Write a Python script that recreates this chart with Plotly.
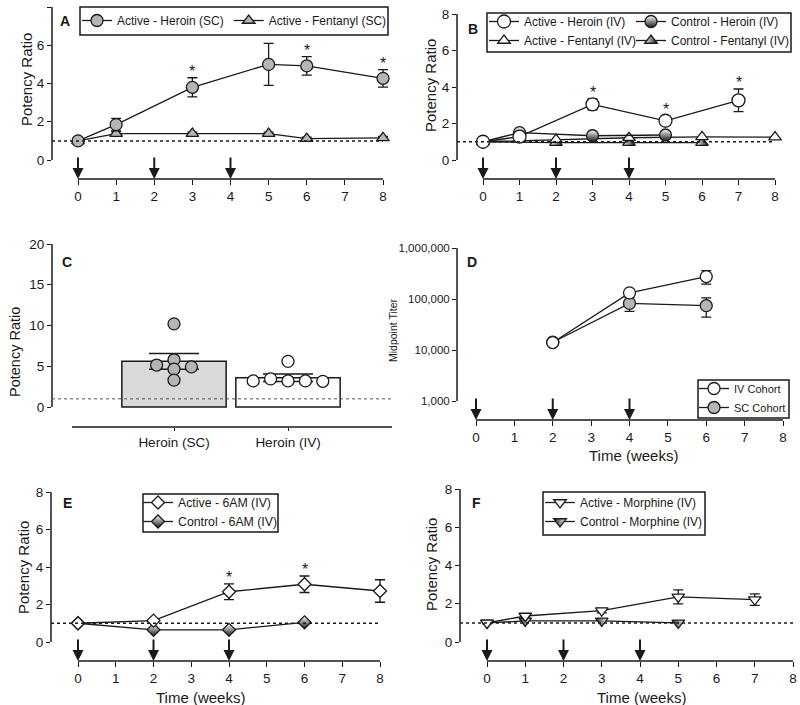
import plotly.graph_objects as go

# ---------------- data ----------------
boost_weeks = [0, 2, 4]
week_ticks = [0, 1, 2, 3, 4, 5, 6, 7, 8]

# Panel A (SC cohort)
a_weeks = [0, 1, 3, 5, 6, 8]
a_heroin = [1.0, 1.85, 3.8, 5.0, 4.92, 4.27]
a_heroin_sem = [0.15, 0.33, 0.5, 1.1, 0.48, 0.46]
a_fent = [1.0, 1.38, 1.38, 1.38, 1.12, 1.16]
a_fent_sem = [0.05, 0.1, 0.08, 0.08, 0.08, 0.08]
a_sig = [3, 6, 8]

# Panel B (IV cohort)
b_heroin_weeks = [0, 1, 3, 5, 7]
b_active_heroin = [1.0, 1.28, 3.05, 2.15, 3.27]
b_active_heroin_sem = [0.08, 0.1, 0.3, 0.25, 0.62]
b_control_heroin_weeks = [0, 1, 3, 5]
b_control_heroin = [1.0, 1.5, 1.33, 1.37]
b_fent_weeks = [0, 2, 4, 6, 8]
b_active_fent = [1.0, 1.12, 1.22, 1.27, 1.25]
b_control_fent_weeks = [0, 2, 4, 6]
b_control_fent = [1.0, 0.95, 0.95, 0.95]
b_sig = [3, 5, 7]

# Panel C
c_groups = ["Heroin (SC)", "Heroin (IV)"]
c_means = [5.6, 3.6]
c_sem = [0.97, 0.46]
c_sc_points = [10.2, 5.8, 5.15, 4.92, 4.65, 3.3]
c_sc_jitter = [0, 0, -1, 1, 0, 0]
c_iv_points = [5.6, 3.2, 3.45, 3.2, 3.2, 3.15]
c_iv_jitter = [0, -2, -1, 0, 1, 2]

# Panel D (midpoint titers)
d_weeks = [2, 4, 6]
d_iv = [14000, 132000, 275000]
d_iv_err_plus = [1500, 15000, 85000]
d_iv_err_minus = [1500, 15000, 80000]
d_sc = [14200, 82000, 74000]
d_sc_err_plus = [1500, 25000, 31000]
d_sc_err_minus = [1500, 25000, 30000]
d_yticks = [1000, 10000, 100000, 1000000]
d_yticktext = ["1,000", "10,000", "100,000", "1,000,000"]

# Panel E (6AM)
e_weeks = [0, 2, 4, 6, 8]
e_active = [1.0, 1.14, 2.68, 3.08, 2.72]
e_active_sem = [0.05, 0.08, 0.42, 0.44, 0.6]
e_control_weeks = [0, 2, 4, 6]
e_control = [1.0, 0.65, 0.65, 1.05]
e_sig = [4, 6]

# Panel F (morphine)
f_weeks = [0, 1, 3, 5, 7]
f_active = [1.0, 1.36, 1.64, 2.36, 2.22]
f_active_sem = [0.05, 0.1, 0.12, 0.37, 0.3]
f_control_weeks = [0, 1, 3, 5]
f_control = [1.0, 1.1, 1.1, 1.0]

# ---------------- style / layout ----------------
W, H = 800, 705
FONT = "Liberation Sans, Arial, Helvetica, sans-serif"
INK = "#1a1a1a"
GRAY = "#b5b5b5"
LW = 1.3

def fx(p):
    return p / W

def fy(p):
    return 1 - p / H

fig = go.Figure()
layout = {}
shapes = []
annotations = []
ranges = {}


def suffix(n):
    return "" if n == 1 else str(n)


def setup_panel(n, left, x0, ppu_x, right, top, base, bottom, ylo, yhi,
                yticks, yticktext=None, log=False, ytickfont=13.5,
                xticks=None, xticktext=None, xline=None, xticklen=5):
    s = suffix(n)
    xr = [(left - x0) / ppu_x, (right - x0) / ppu_x]
    ppu_y = (base - top) / (yhi - ylo)
    yr = [ylo - (bottom - base) / ppu_y, yhi]
    ranges[n] = (xr, yr)
    layout["xaxis" + s] = dict(
        domain=[fx(left), fx(right)], range=xr, anchor="y" + s, automargin=False,
        showgrid=False, zeroline=False, showline=False,
        ticks="outside", ticklen=xticklen, tickwidth=LW, tickcolor=INK,
        tickvals=xticks if xticks is not None else week_ticks,
        ticktext=xticktext, tickfont=dict(size=13.5, color=INK, family=FONT),
        fixedrange=True)
    layout["yaxis" + s] = dict(
        domain=[fy(bottom), fy(top)], range=yr, anchor="x" + s, automargin=False,
        type="log" if log else "linear",
        showgrid=False, zeroline=False, showline=False,
        ticks="outside", ticklen=4, tickwidth=LW, tickcolor=INK,
        tickvals=yticks, ticktext=yticktext,
        tickfont=dict(size=ytickfont, color=INK, family=FONT), fixedrange=True)
    f0 = (ylo - yr[0]) / (yr[1] - yr[0])
    shapes.append(dict(type="line", xref="x" + s + " domain", yref="y" + s + " domain",
                       x0=0, x1=0, y0=f0, y1=1, line=dict(color=INK, width=1.5)))
    if xline is None:
        shapes.append(dict(type="line", xref="x" + s, yref="y" + s + " domain",
                           x0=week_ticks[0], x1=week_ticks[-1], y0=0, y1=0,
                           line=dict(color=INK, width=1.5)))
    else:
        shapes.append(dict(type="line", xref="x" + s + " domain", yref="y" + s + " domain",
                           x0=xline, x1=1, y0=0, y1=0, line=dict(color=INK, width=1.5)))


def dotted_baseline(n, to_end=True, width=1.5, color=INK):
    s = suffix(n)
    xr, yr = ranges[n]
    shapes.append(dict(type="line", xref="x" + s, yref="y" + s,
                       x0=xr[0], x1=week_ticks[-1] if to_end else xr[1], y0=1, y1=1,
                       line=dict(color=color, width=width, dash="dot")))


def arrows(n, length=23):
    s = suffix(n)
    for w in boost_weeks:
        annotations.append(dict(x=w, y=0, xref="x" + s, yref="y" + s + " domain",
                                ax=0, ay=-length, text="", showarrow=True,
                                arrowhead=2, arrowsize=1.1, arrowwidth=2,
                                arrowcolor=INK, standoff=0))


def stars(n, weeks, xs, ys, sems):
    s = suffix(n)
    for w in weeks:
        i = xs.index(w)
        annotations.append(dict(x=w, y=ys[i] + sems[i], xref="x" + s, yref="y" + s,
                                text="*", showarrow=False, yanchor="bottom",
                                yshift=-4, font=dict(size=16, color=INK, family=FONT)))


def series(n, x, y, sem=None, semminus=None, symbol="circle", fill="white", size=12,
           name=None, legend="legend", gradient=None, rank=1, showlegend=True):
    s = suffix(n)
    marker = dict(symbol=symbol, size=size, color=fill, line=dict(color=INK, width=LW))
    if gradient is not None:
        marker["gradient"] = gradient
    err = None
    if sem is not None:
        err = dict(type="data", array=sem, visible=True, color=INK,
                   thickness=LW, width=5)
        if semminus is not None:
            err["symmetric"] = False
            err["arrayminus"] = semminus
    fig.add_trace(go.Scatter(
        x=x, y=y, mode="lines+markers", name=name, marker=marker,
        line=dict(color=INK, width=LW), error_y=err, xaxis="x" + s, yaxis="y" + s,
        legend=legend, legendrank=rank, showlegend=showlegend, cliponaxis=False))


# ---- Panel A ----
setup_panel(1, left=52, x0=78, ppu_x=(383 - 78) / 8, right=398, top=7, base=160, bottom=179,
            ylo=0, yhi=8, yticks=[0, 2, 4, 6, 8])
dotted_baseline(1)
arrows(1)
series(1, a_weeks, a_fent, a_fent_sem, symbol="triangle-up", fill=GRAY, size=11,
       name="Active - Fentanyl (SC)", legend="legend", rank=2)
series(1, a_weeks, a_heroin, a_heroin_sem, symbol="circle", fill=GRAY, size=12,
       name="Active - Heroin (SC)", legend="legend", rank=1)
stars(1, a_sig, a_weeks, a_heroin, a_heroin_sem)

# ---- Panel B ----
setup_panel(2, left=457, x0=483, ppu_x=(775 - 483) / 8, right=790, top=14, base=160, bottom=179,
            ylo=0, yhi=8, yticks=[0, 2, 4, 6, 8])
dotted_baseline(2)
arrows(2)
series(2, b_control_fent_weeks, b_control_fent, symbol="triangle-up", fill="white", size=11,
       gradient=dict(type="horizontal", color=INK),
       name="Control - Fentanyl (IV)", legend="legend3", rank=2)
series(2, b_fent_weeks, b_active_fent, symbol="triangle-up", fill="white", size=11,
       name="Active - Fentanyl (IV)", legend="legend2", rank=2)
series(2, b_control_heroin_weeks, b_control_heroin, symbol="circle", fill="white", size=12,
       gradient=dict(type="vertical", color=INK),
       name="Control - Heroin (IV)", legend="legend3", rank=1)
series(2, b_heroin_weeks, b_active_heroin, b_active_heroin_sem, symbol="circle", fill="white",
       size=13, name="Active - Heroin (IV)", legend="legend2", rank=1)
stars(2, b_sig, b_heroin_weeks, b_active_heroin, b_active_heroin_sem)

# ---- Panel C ----
setup_panel(3, left=52, x0=174, ppu_x=114, right=392, top=244, base=407, bottom=427,
            ylo=0, yhi=20, yticks=[0, 5, 10, 15, 20], xticks=[0, 1], xticktext=c_groups,
            xline=(72 - 52) / (392 - 52), xticklen=3)
dotted_baseline(3, to_end=False, width=1, color="#555")
fig.add_trace(go.Bar(
    x=[0, 1], y=c_means, width=0.915, xaxis="x3", yaxis="y3", showlegend=False,
    marker=dict(color=["#d9d9d9", "white"], line=dict(color=INK, width=1.5)),
    error_y=dict(type="data", array=c_sem, visible=True, color=INK, thickness=1.5, width=25)))
jit = 17.4 / 114
fig.add_trace(go.Scatter(
    x=[0 + j * jit for j in c_sc_jitter], y=c_sc_points, mode="markers", xaxis="x3", yaxis="y3",
    showlegend=False, cliponaxis=False,
    marker=dict(symbol="circle", size=12, color=GRAY, line=dict(color=INK, width=LW))))
fig.add_trace(go.Scatter(
    x=[1 + j * jit for j in c_iv_jitter], y=c_iv_points, mode="markers", xaxis="x3", yaxis="y3",
    showlegend=False, cliponaxis=False,
    marker=dict(symbol="circle", size=12, color="white", line=dict(color=INK, width=LW))))

# ---- Panel D ----
setup_panel(4, left=457, x0=476, ppu_x=(783 - 476) / 8, right=795, top=248, base=401, bottom=420,
            ylo=3, yhi=6, yticks=d_yticks, yticktext=d_yticktext, log=True, ytickfont=11.5)
arrows(4)
series(4, d_weeks, d_sc, d_sc_err_plus, d_sc_err_minus, symbol="circle", fill=GRAY, size=12,
       name="SC Cohort", legend="legend4", rank=2)
series(4, d_weeks, d_iv, d_iv_err_plus, d_iv_err_minus, symbol="circle", fill="white", size=12,
       name="IV Cohort", legend="legend4", rank=1)

# ---- Panel E ----
setup_panel(5, left=51, x0=78, ppu_x=(380 - 78) / 8, right=395, top=492, base=642, bottom=661,
            ylo=0, yhi=8, yticks=[0, 2, 4, 6, 8])
dotted_baseline(5)
arrows(5)
series(5, e_control_weeks, e_control, symbol="diamond", fill="white", size=10,
       gradient=dict(type="vertical", color=INK),
       name="Control - 6AM (IV)", legend="legend5", rank=2)
series(5, e_weeks, e_active, e_active_sem, symbol="diamond", fill="white", size=10,
       name="Active - 6AM (IV)", legend="legend5", rank=1)
stars(5, e_sig, e_weeks, e_active, e_active_sem)

# ---- Panel F ----
setup_panel(6, left=460, x0=487, ppu_x=(793 - 487) / 8, right=799, top=489, base=642, bottom=661,
            ylo=0, yhi=8, yticks=[0, 2, 4, 6, 8])
dotted_baseline(6)
arrows(6)
series(6, f_control_weeks, f_control, symbol="triangle-down", fill=INK, size=11,
       gradient=dict(type="horizontal", color="white"),
       name="Control - Morphine (IV)", legend="legend6", rank=2)
series(6, f_weeks, f_active, f_active_sem, symbol="triangle-down", fill="white", size=11,
       name="Active - Morphine (IV)", legend="legend6", rank=1)

# ---------------- text ----------------
def label(text, x, y, size=15, angle=0, bold=False):
    annotations.append(dict(text="<b>%s</b>" % text if bold else text, x=fx(x), y=fy(y),
                            xref="paper", yref="paper", xanchor="center", yanchor="middle",
                            showarrow=False, textangle=angle,
                            font=dict(size=size, color=INK, family=FONT)))

for t, x, y in [("A", 65, 21), ("B", 473, 29), ("C", 67, 262), ("D", 472, 262),
                ("E", 67, 503), ("F", 477, 503)]:
    label(t, x, y, size=14, bold=True)

label("Potency Ratio", 27, 80, angle=-90)
label("Potency Ratio", 431, 85, angle=-90)
label("Potency Ratio", 15, 352, angle=-90, size=14.5)
label("Midpoint Titer", 393, 330, angle=-90, size=10.5)
label("Potency Ratio", 23, 568, angle=-90)
label("Potency Ratio", 431, 564, angle=-90)
label("Time (weeks)", 633, 455)
label("Time (weeks)", 200, 697)
label("Time (weeks)", 641, 697)

# legend frames
for x0, x1, y0, y1 in [(80, 388, 7, 35), (487, 791, 13, 52), (698, 789, 380, 418),
                       (143, 278, 494, 532), (543, 705, 492, 535)]:
    shapes.append(dict(type="rect", xref="paper", yref="paper", x0=fx(x0), x1=fx(x1),
                       y0=fy(y1), y1=fy(y0), line=dict(color=INK, width=1.5)))

def legend_box(x, y, size, orientation="v"):
    return dict(x=fx(x), y=fy(y), xanchor="left", yanchor="top", orientation=orientation,
                bgcolor="rgba(255,255,255,0)", borderwidth=0,
                font=dict(size=size, color=INK, family=FONT), itemclick=False,
                itemdoubleclick=False, traceorder="normal")

layout["legend"] = legend_box(77, 6, 12, orientation="h")
layout["legend2"] = legend_box(484, 7, 12)
layout["legend3"] = legend_box(631, 7, 12)
layout["legend4"] = legend_box(694, 374, 11)
layout["legend5"] = legend_box(138, 488, 12.3)
layout["legend6"] = legend_box(540, 488, 12)

fig.update_layout(
    width=W, height=H, margin=dict(l=0, r=0, t=0, b=0, autoexpand=False),
    paper_bgcolor="white", plot_bgcolor="white",
    font=dict(family=FONT, color=INK, size=13),
    shapes=shapes, annotations=annotations, **layout)

fig.write_html("out.html", config={"displayModeBar": False},
               post_script="document.body.style.margin='0px';")
